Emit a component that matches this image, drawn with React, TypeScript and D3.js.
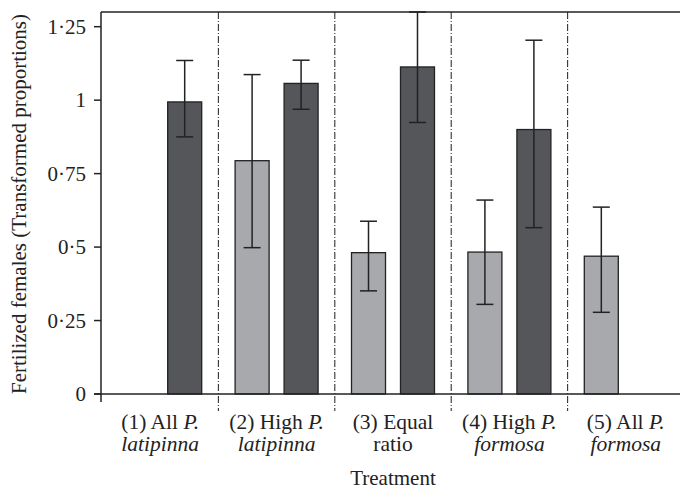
import React from "react";
import * as d3 from "d3";

const categories = ["g1", "g2", "g3", "g4", "g5"];
const labelLine1 = ["(1) All ", "(2) High ", "(3) Equal", "(4) High ", "(5) All "];
const labelLine1Italic = ["P.", "P.", "", "P.", "P."];
const labelLine2 = ["latipinna", "latipinna", "ratio", "formosa", "formosa"];
const labelLine2Italic = [true, true, false, true, true];

const lightValues = [null, 0.794, 0.481, 0.483, 0.469];
const lightLower = [null, 0.498, 0.351, 0.305, 0.278];
const lightUpper = [null, 1.087, 0.588, 0.66, 0.636];

const darkValues = [0.994, 1.057, 1.113, 0.9, null];
const darkLower = [0.875, 0.969, 0.924, 0.566, null];
const darkUpper = [1.135, 1.136, 1.3, 1.204, null];

const yTicks = [0, 0.25, 0.5, 0.75, 1, 1.25];
const yTickLabels = ["0", "0·25", "0·5", "0·75", "1", "1·25"];

const yTitle = "Fertilized females (Transformed proportions)";
const xTitle = "Treatment";

const W = 680;
const H = 492;
const left = 101;
const top = 12;
const bottom = 394;
const FONT = "'Liberation Serif', 'Times New Roman', serif";
const FS = 21.5;
const FS_Y = 21;

export default function App() {
  const x = d3.scaleBand<string>().domain(categories).range([102, 684]).padding(0);
  const x1 = d3
    .scaleBand<string>()
    .domain(["light", "dark"])
    .range([0, x.bandwidth()])
    .paddingInner(0.306)
    .paddingOuter(0.341);
  const y = d3.scaleLinear().domain([0, 1.3]).range([bottom, top]);

  const series = [
    { key: "light", vals: lightValues, lo: lightLower, hi: lightUpper, fill: "#a8a9ad" },
    { key: "dark", vals: darkValues, lo: darkLower, hi: darkUpper, fill: "#55565a" },
  ];

  const separators = categories.slice(1).map((c) => x(c)!);

  return (
    <svg
      width={W}
      height={H}
      style={{ position: "absolute", left: 0, top: 0, background: "#fff" }}
      fontFamily={FONT}
    >
      <rect x={0} y={0} width={W} height={H} fill="#fff" />
      {separators.map((sx, i) => (
        <line
          key={"sep" + i}
          x1={sx}
          x2={sx}
          y1={top}
          y2={411}
          stroke="#333"
          strokeWidth={1.1}
          strokeDasharray="7,2,1,2"
        />
      ))}
      {series.map((s) =>
        categories.map((c, i) => {
          const v = s.vals[i];
          if (v == null) return null;
          const bx = x(c)! + x1(s.key)!;
          const bw = x1.bandwidth();
          const cx = bx + bw / 2;
          const capW = 17;
          return (
            <g key={s.key + c}>
              <rect
                x={bx}
                y={y(v)}
                width={bw}
                height={y(0) - y(v)}
                fill={s.fill}
                stroke="#222"
                strokeWidth={1.3}
              />
              <line x1={cx} x2={cx} y1={y(s.lo[i]!)} y2={y(s.hi[i]!)} stroke="#222" strokeWidth={1.5} />
              <line x1={cx - capW / 2} x2={cx + capW / 2} y1={y(s.lo[i]!)} y2={y(s.lo[i]!)} stroke="#222" strokeWidth={1.5} />
              <line x1={cx - capW / 2} x2={cx + capW / 2} y1={y(s.hi[i]!)} y2={y(s.hi[i]!)} stroke="#222" strokeWidth={1.5} />
            </g>
          );
        })
      )}
      <line x1={left} x2={W} y1={top} y2={top} stroke="#222" strokeWidth={1.5} />
      <line x1={left} x2={left} y1={top} y2={402} stroke="#222" strokeWidth={1.5} />
      <line x1={left - 7} x2={W} y1={bottom} y2={bottom} stroke="#222" strokeWidth={1.5} />
      {yTicks.map((t, i) => (
        <g key={"yt" + i}>
          <line x1={left - 7} x2={left} y1={y(t)} y2={y(t)} stroke="#222" strokeWidth={1.5} />
          <text x={86} y={y(t)} dy="0.34em" textAnchor="end" fontSize={FS_Y} fill="#222">
            {yTickLabels[i]}
          </text>
        </g>
      ))}
      {categories.map((c, i) => {
        const cx = x(c)! + x.bandwidth() / 2;
        return (
          <g key={"xl" + i} fontSize={FS} fill="#222">
            <text x={cx} y={429} textAnchor="middle">
              {labelLine1[i]}
              {labelLine1Italic[i] ? <tspan fontStyle="italic">{labelLine1Italic[i]}</tspan> : null}
            </text>
            <text x={cx} y={451} textAnchor="middle" fontStyle={labelLine2Italic[i] ? "italic" : "normal"}>
              {labelLine2[i]}
            </text>
          </g>
        );
      })}
      <text x={x("g3")! + x.bandwidth() / 2} y={485} textAnchor="middle" fontSize={FS - 0.5} fill="#222">
        {xTitle}
      </text>
      <text
        transform={`translate(26,${(top + bottom) / 2 + 1}) rotate(-90)`}
        textAnchor="middle"
        fontSize={FS_Y}
        fill="#222"
      >
        {yTitle}
      </text>
    </svg>
  );
}
